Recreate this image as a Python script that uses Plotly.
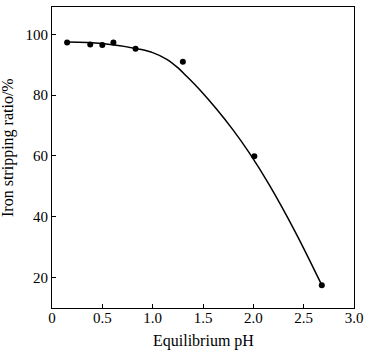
import plotly.graph_objects as go

# measured points
ph = [0.15, 0.38, 0.50, 0.61, 0.83, 1.30, 2.01, 2.68]
ratio = [97.3, 96.7, 96.5, 97.3, 95.3, 91.0, 59.9, 17.5]

# fitted curve
curve_ph = [0.15, 0.50, 0.87, 1.00, 1.14, 1.24, 1.335, 1.47, 1.63, 1.80, 1.96, 2.16, 2.42, 2.68]
curve_ratio = [97.5, 97.0, 95.1, 94.0, 91.8, 89.3, 86.3, 81.7, 75.6, 68.5, 61.0, 50.4, 34.8, 17.5]

xticks = [0, 0.5, 1.0, 1.5, 2.0, 2.5, 3.0]
xticktext = ["0", "0.5", "1.0", "1.5", "2.0", "2.5", "3.0"]
yticks = [20, 40, 60, 80, 100]

fig = go.Figure()
fig.add_trace(go.Scatter(x=curve_ph, y=curve_ratio, mode="lines",
                         line=dict(color="black", width=1.5, shape="spline", smoothing=1.0),
                         showlegend=False, hoverinfo="skip"))
fig.add_trace(go.Scatter(x=ph, y=ratio, mode="markers",
                         marker=dict(color="black", size=6),
                         showlegend=False))

font = dict(family="Liberation Serif", size=15, color="black")
tfont = dict(family="Liberation Serif", size=16, color="black")
fig.update_layout(
    width=371, height=354,
    margin=dict(l=52, r=17, t=7, b=46),
    paper_bgcolor="white", plot_bgcolor="white",
    font=font,
    xaxis=dict(range=[0, 3.0], tickvals=xticks, ticktext=xticktext,
               showline=True, linecolor="black", linewidth=1, mirror=True,
               ticks="inside", ticklen=4, tickcolor="black", showgrid=False, zeroline=False,
               ticklabelstandoff=-4),
    yaxis=dict(range=[10, 109], tickvals=yticks,
               showline=True, linecolor="black", linewidth=1, mirror=True,
               ticks="inside", ticklen=4, tickcolor="black", showgrid=False, zeroline=False),
    annotations=[
        dict(text="Equilibrium pH", xref="paper", yref="paper", x=0.5, y=-0.1096,
             xanchor="center", yanchor="middle", showarrow=False, font=tfont),
        dict(text="Iron stripping ratio/%", xref="paper", yref="paper", x=-0.1457, y=0.535,
             xanchor="center", yanchor="middle", textangle=-90, showarrow=False, font=tfont),
    ],
)
fig.write_html("out.html")
